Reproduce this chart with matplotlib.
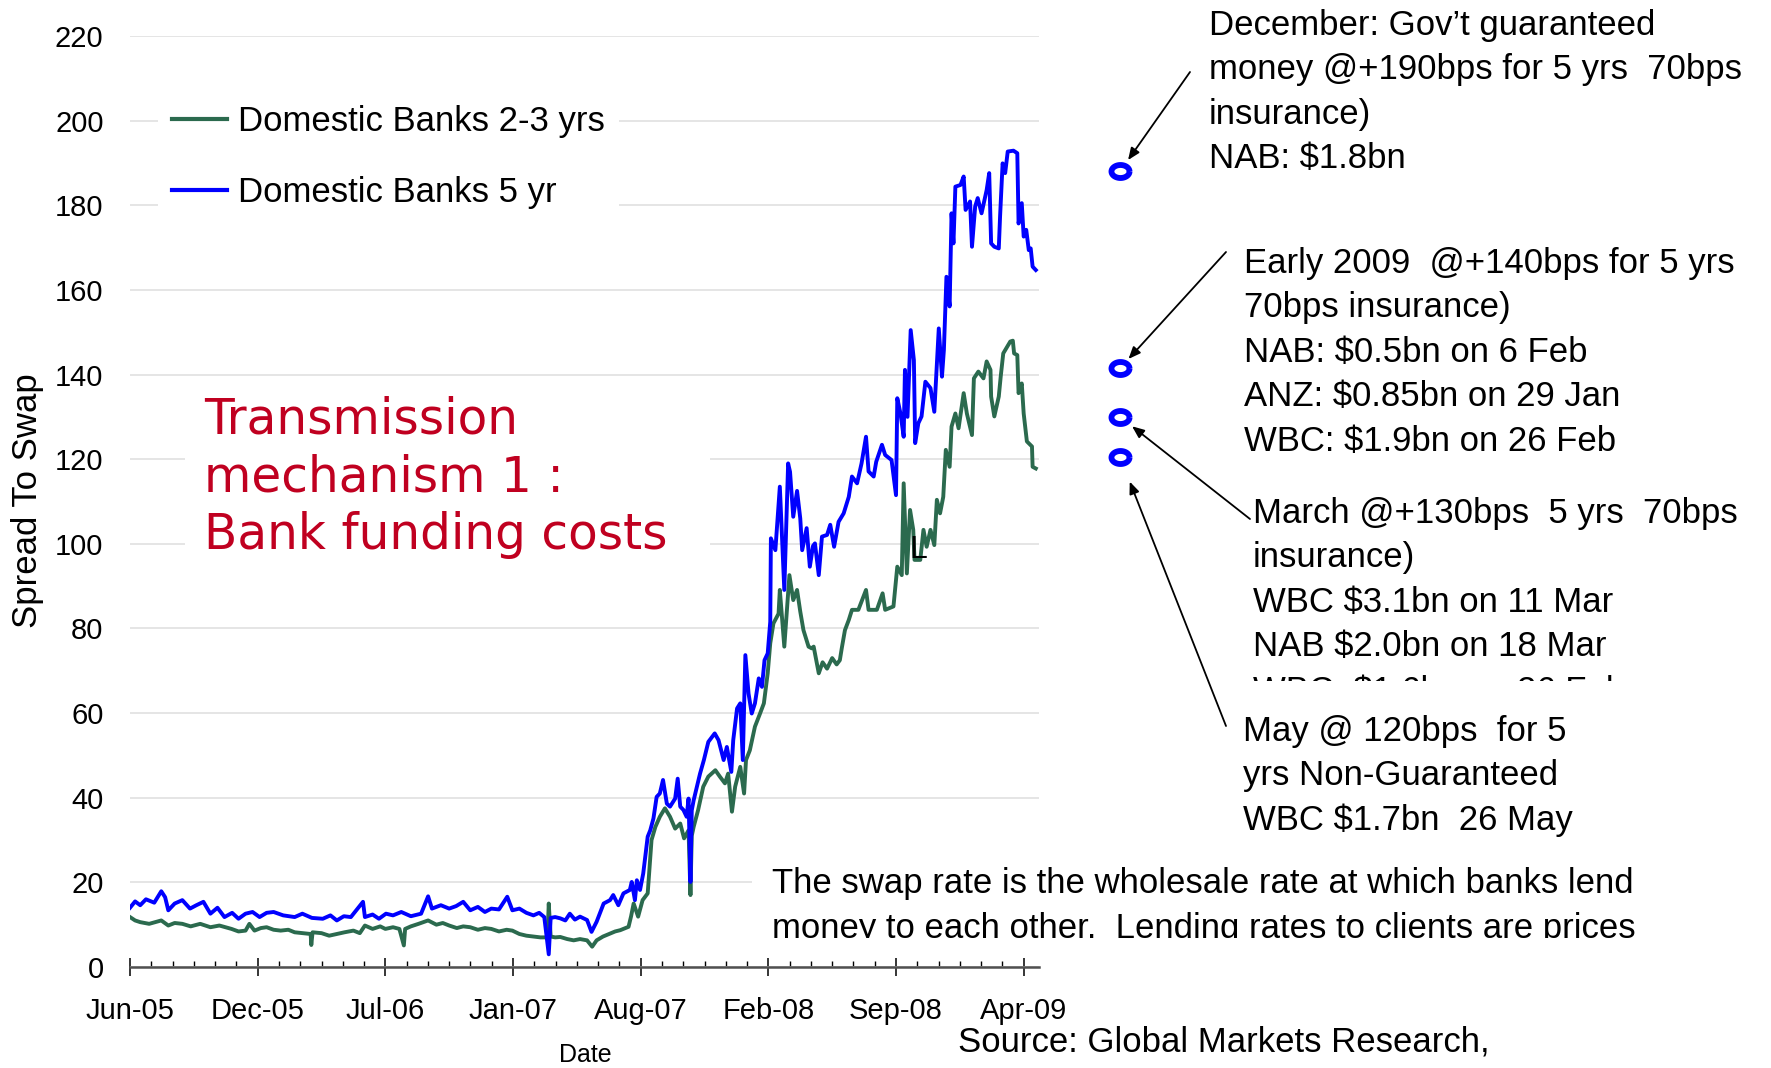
import numpy as np
import pandas as pd
import matplotlib
matplotlib.use("Agg")
import matplotlib.pyplot as plt
import matplotlib.dates as mdates
from matplotlib.path import Path
from matplotlib.patches import Rectangle
from matplotlib.transforms import Bbox, TransformedBbox

plt.rcParams["font.family"] = ["Liberation Sans", "DejaVu Sans"]

# ---------------------------------------------------------------------
# data (x = days after START, y = spread to swap, bps)
# ---------------------------------------------------------------------
START = pd.Timestamp("2005-06-01")

green_days = [0, 8, 16, 30, 49, 60, 70, 82, 95, 110, 126, 140, 159, 170, 181, 187, 195, 205,
              214, 225, 236, 248, 258, 270, 283, 284, 286, 300, 312, 324, 336, 350, 360, 368,
              380, 392, 400, 412, 422, 429, 431, 440, 452, 467, 480, 490, 500, 512, 522, 533,
              545, 556, 566, 578, 590, 599, 610, 621, 632, 643, 654, 656, 659, 666, 674, 685,
              695, 705, 716, 724, 731, 741, 752, 760, 768, 781, 785, 789, 796, 803, 811, 817,
              823, 830, 838, 846, 854, 862, 868, 875, 878, 880, 883, 890, 898, 906, 917, 924,
              932, 937, 943, 948, 956, 962, 965, 971, 979, 987, 993, 999, 1003, 1008, 1016,
              1018, 1025, 1033, 1039, 1045, 1050, 1055, 1063, 1068, 1071, 1079, 1085, 1092,
              1100, 1107, 1112, 1115, 1120, 1126, 1131, 1141, 1153, 1157, 1170, 1179, 1183,
              1196, 1202, 1209, 1212, 1217, 1222, 1227, 1229, 1238, 1243, 1248, 1254, 1260,
              1264, 1269, 1274, 1278, 1284, 1287, 1293, 1298, 1306, 1311, 1319, 1322, 1329,
              1337, 1342, 1348, 1349, 1354, 1361, 1364, 1368, 1379, 1383, 1385, 1390, 1392,
              1397, 1400, 1405, 1413, 1414, 1419]
green_bps = [11.8, 11.0, 10.6, 10.2, 11.0, 9.8, 10.4, 10.2, 9.6, 10.2, 9.4, 9.8, 9.0, 8.4, 8.6,
             10.2, 8.6, 9.2, 9.4, 8.8, 8.6, 8.8, 8.2, 8.0, 7.8, 5.2, 8.2, 8.0, 7.4, 7.8, 8.2, 8.6,
             8.0, 9.8, 9.0, 9.6, 9.0, 9.4, 9.0, 5.1, 9.0, 9.6, 10.2, 11.0, 10.0, 10.4, 9.8, 9.2,
             9.6, 9.4, 8.8, 9.2, 9.0, 8.4, 8.8, 8.6, 7.8, 7.4, 7.2, 7.0, 7.0, 15.0, 7.2, 7.0, 7.1,
             6.6, 6.3, 6.6, 6.3, 4.8, 6.3, 7.2, 7.9, 8.4, 8.7, 9.5, 12.0, 15.0, 11.9, 15.8, 17.4,
             30.0, 33.1, 35.5, 37.5, 35.5, 32.7, 33.9, 30.4, 32.3, 17.0, 31.0, 33.1, 37.1, 42.6,
             45.0, 46.5, 45.0, 43.4, 45.7, 36.7, 42.6, 47.3, 41.0, 48.9, 51.2, 56.8, 59.9, 62.3,
             69.4, 76.5, 81.2, 83.5, 89.1, 75.7, 92.6, 86.7, 89.1, 84.0, 79.6, 75.7, 75.3, 75.7,
             69.4, 72.0, 70.5, 73.0, 71.5, 72.5, 75.3, 79.6, 82.0, 84.4, 84.4, 89.1, 84.4, 84.4,
             88.3, 84.4, 85.2, 94.6, 92.6, 114.3, 93.0, 108.0, 103.3, 96.2, 96.2, 103.3, 99.3,
             103.3, 99.7, 110.4, 107.2, 111.1, 122.2, 118.2, 127.7, 130.8, 127.3, 135.6, 130.8,
             125.7, 139.1, 140.7, 139.1, 143.1, 141.1, 134.8, 130.1, 134.8, 139.5, 145.0, 147.8,
             148.0, 145.0, 144.6, 135.6, 137.9, 130.8, 124.2, 123.0, 118.2, 117.8]

blue_days = [0, 8, 16, 25, 38, 49, 55, 60, 70, 82, 94, 104, 115, 126, 137, 148, 160, 170, 181,
             192, 203, 214, 225, 240, 258, 270, 285, 302, 314, 324, 335, 346, 365, 368, 380, 390,
             401, 412, 425, 440, 456, 467, 473, 487, 500, 511, 522, 533, 545, 556, 566, 578, 591,
             599, 610, 621, 632, 641, 649, 656, 659, 666, 674, 682, 689, 697, 705, 716, 723, 731,
             742, 752, 757, 765, 773, 783, 786, 791, 794, 799, 804, 811, 815, 820, 825, 830, 835,
             841, 846, 854, 858, 862, 867, 872, 875, 878, 880, 883, 888, 893, 899, 906, 916, 922,
             930, 935, 942, 945, 951, 956, 960, 964, 969, 974, 979, 985, 990, 994, 999, 1003,
             1004, 1011, 1018, 1025, 1031, 1034, 1039, 1045, 1050, 1053, 1060, 1065, 1070, 1073,
             1079, 1084, 1092, 1097, 1103, 1110, 1118, 1126, 1131, 1139, 1146, 1153, 1157, 1165,
             1169, 1178, 1183, 1193, 1200, 1202, 1207, 1212, 1214, 1218, 1223, 1228, 1230, 1235,
             1240, 1246, 1254, 1260, 1267, 1272, 1275, 1279, 1284, 1287, 1290, 1293, 1301, 1306,
             1309, 1316, 1319, 1324, 1328, 1334, 1342, 1346, 1349, 1354, 1361, 1363, 1367, 1371,
             1375, 1384, 1390, 1392, 1397, 1400, 1404, 1408, 1411, 1414, 1419]
blue_bps = [14.0, 15.5, 14.6, 16.0, 15.2, 17.9, 16.5, 13.4, 15.0, 15.8, 13.8, 14.6, 15.4, 12.6,
            14.0, 11.8, 12.8, 11.4, 12.6, 13.0, 11.8, 12.8, 13.0, 12.2, 11.8, 12.6, 11.6, 11.4,
            12.2, 11.0, 12.0, 11.8, 15.4, 11.8, 12.4, 11.4, 12.6, 12.2, 13.0, 12.0, 12.6, 16.7,
            13.8, 14.6, 13.8, 14.4, 15.4, 13.4, 14.2, 13.0, 13.8, 13.6, 16.6, 13.4, 13.8, 12.8,
            12.2, 12.8, 11.8, 3.0, 11.6, 11.8, 11.5, 11.0, 12.6, 11.2, 11.9, 11.1, 8.3, 10.7,
            15.0, 15.8, 17.0, 14.6, 17.4, 18.2, 20.1, 15.8, 20.5, 18.2, 22.1, 30.8, 32.3, 35.1,
            40.2, 41.0, 44.2, 38.6, 37.9, 39.8, 44.5, 37.9, 37.1, 35.5, 39.8, 20.1, 37.0, 39.4,
            42.6, 45.7, 48.9, 53.2, 55.2, 53.6, 48.9, 52.0, 46.1, 53.6, 61.1, 62.3, 48.9, 73.7,
            64.6, 59.9, 62.3, 68.2, 66.2, 72.5, 74.1, 81.6, 101.3, 98.5, 113.5, 89.1, 119.0,
            117.0, 106.4, 112.5, 106.0, 98.5, 103.7, 94.6, 99.5, 100.1, 92.6, 101.7, 102.1,
            104.5, 99.3, 105.2, 107.2, 111.1, 115.9, 114.3, 119.0, 125.3, 117.1, 115.9, 119.4,
            123.4, 121.0, 119.8, 111.5, 134.4, 130.8, 125.3, 141.1, 130.0, 150.5, 143.4, 123.8,
            128.5, 130.1, 138.3, 136.8, 131.2, 150.9, 139.5, 145.8, 163.1, 156.1, 178.1, 171.0,
            184.4, 184.8, 186.8, 178.9, 180.9, 170.2, 179.7, 181.7, 178.1, 183.6, 187.6, 171.0,
            170.2, 169.8, 177.3, 189.9, 187.6, 192.7, 192.9, 192.3, 175.7, 180.5, 172.6, 174.2,
            169.4, 169.8, 165.5, 164.7]

# guaranteed issues marked to the right of the plot
issue_days = [1551, 1551, 1551, 1551]
issue_bps = [188, 141.5, 130, 120.5]

y_ticks = [0, 20, 40, 60, 80, 100, 120, 140, 160, 180, 200, 220]
x_tick_days = [0, 200, 400, 600, 800, 1000, 1200, 1400]
x_tick_labels = ["Jun-05", "Dec-05", "Jul-06", "Jan-07", "Aug-07", "Feb-08", "Sep-08", "Apr-09"]

series_labels = ["Domestic Banks 2-3 yrs", "Domestic Banks 5 yr"]

december_note = ["December: Gov\u2019t guaranteed", "money @+190bps for 5 yrs  70bps",
                 "insurance)", "NAB: $1.8bn"]
early_note = ["Early 2009  @+140bps for 5 yrs", "70bps insurance)", "NAB: $0.5bn on 6 Feb",
              "ANZ: $0.85bn on 29 Jan", "WBC: $1.9bn on 26 Feb"]
march_note = ["March @+130bps  5 yrs  70bps", "insurance)", "WBC $3.1bn on 11 Mar",
              "NAB $2.0bn on 18 Mar", "WBC  $1.6bn on 26 Feb"]
may_note = ["May @ 120bps  for 5", "yrs Non-Guaranteed", "WBC $1.7bn  26 May"]
swap_note = ["The swap rate is the wholesale rate at which banks lend",
             "money to each other.  Lending rates to clients are prices"]
title_note = ["Transmission", "mechanism 1 :", "Bank funding costs"]

GREEN = "#2b6a4e"
BLUE = "#0000ff"
RED = "#c00020"

W, H = 1771, 1068


def to_dates(days):
    return START + pd.to_timedelta(days, unit="D")


def fx(x):
    return x / W


def fy(y):
    # y measured from the top of the picture
    return 1 - y / H


fig = plt.figure(figsize=(W / 100, H / 100), dpi=100)
ax = fig.add_axes([fx(130), fy(967), (1039 - 130) / W, (967 - 36) / H])

ax.plot(to_dates(green_days), green_bps, color=GREEN, lw=2.8, label=series_labels[0], zorder=3)
ax.plot(to_dates(blue_days), blue_bps, color=BLUE, lw=2.8, label=series_labels[1], zorder=4)

# blue rings (slightly flattened, as in the original slide)
theta = np.linspace(0, 2 * np.pi, 61)
ring = Path(np.column_stack([np.cos(theta), 0.72 * np.sin(theta)]))
ax.plot(to_dates(issue_days), issue_bps, linestyle="none", marker=ring, ms=13,
        mfc="white", mec=BLUE, mew=4.2, clip_on=False, zorder=5)

ax.set_ylim(0, 220)
ax.set_xlim(to_dates([0])[0], to_dates([1424])[0])
ax.set_yticks(y_ticks)
ax.set_xticks(to_dates(x_tick_days))
ax.set_xticklabels(x_tick_labels)
ax.set_xticks(to_dates(np.arange(0, 1424, 200 / 6)), minor=True)

ax.yaxis.grid(True, color="#e0e0e0", lw=1.2)
ax.set_axisbelow(True)
for side in ["left", "top", "right"]:
    ax.spines[side].set_visible(False)
ax.spines["bottom"].set_color("#505050")
ax.spines["bottom"].set_linewidth(1.8)

ax.tick_params(axis="y", length=0, pad=19, labelsize=21)
ax.tick_params(axis="x", which="major", direction="inout", length=13, width=1.1,
               pad=15, labelsize=21)
ax.tick_params(axis="x", which="minor", direction="in", length=4.3, width=1.0)

leg = ax.legend(loc="upper left", bbox_to_anchor=(fx(158), fy(91)), bbox_transform=fig.transFigure,
                fontsize=25, frameon=True, facecolor="white", edgecolor="none", framealpha=1,
                fancybox=False, handlelength=1.6, handletextpad=0.3, labelspacing=1.1,
                borderpad=0.4, borderaxespad=0)
for line in leg.get_lines():
    line.set_linewidth(3)

fig.text(fx(28), fy(501), "Spread To Swap", rotation=90, ha="center", va="center", fontsize=25)
fig.text(fx(585), fy(1055), "Date", ha="center", va="center", fontsize=18)

# white boxes that hide the gridlines behind the text boxes
fig.add_artist(Rectangle((fx(185), fy(600)), (710 - 185) / W, (600 - 385) / H,
                         transform=fig.transFigure, facecolor="white", edgecolor="none", zorder=1))
fig.add_artist(Rectangle((fx(752), fy(937)), (1700 - 752) / W, (937 - 845) / H,
                         transform=fig.transFigure, facecolor="white", edgecolor="none", zorder=1))


def text_block(lines, x, baseline, pitch, clip_y=None, **kw):
    for i, line in enumerate(lines):
        t = fig.text(fx(x), fy(baseline + i * pitch), line, ha="left", va="baseline", zorder=2, **kw)
        if clip_y is not None:
            t.set_clip_box(TransformedBbox(Bbox([[0, fy(clip_y)], [1, 1]]), fig.transFigure))
            t.set_clip_on(True)


text_block(title_note, 204, 434, 57.5, fontsize=35, color=RED, family="DejaVu Sans")
text_block(december_note, 1209, 35, 44.4, fontsize=25)
text_block(early_note, 1244, 273, 44.4, fontsize=25)
text_block(march_note, 1253, 523, 44.4, clip_y=681, fontsize=25)
text_block(may_note, 1243, 741, 44.4, fontsize=25)
text_block(swap_note, 772, 893, 45, clip_y=937.5, fontsize=25)
text_block(["Source: Global Markets Research,"], 958, 1051, 44.4, fontsize=25)

# small black "L" mark left on the original slide
fig.text(fx(909), fy(558), "L", fontsize=23, va="baseline", color="black")

# arrows from the notes to the rings
arrow_tails = [(1190, 72), (1226, 252), (1250, 519), (1226, 726)]
arrow_gaps = [10, 9, 11, 19]
for (tx, ty), day, bps, gap in zip(arrow_tails, issue_days, issue_bps, arrow_gaps):
    ax.annotate("", xy=(mdates.date2num(to_dates([day])[0]), bps), xycoords="data",
                xytext=(tx, H - ty), textcoords="figure pixels", annotation_clip=False,
                arrowprops=dict(arrowstyle="-|>,head_length=0.6,head_width=0.25",
                                color="black", lw=1.3, shrinkA=0, shrinkB=gap,
                                mutation_scale=12))

fig.savefig("out.png", dpi=100, facecolor="white")
